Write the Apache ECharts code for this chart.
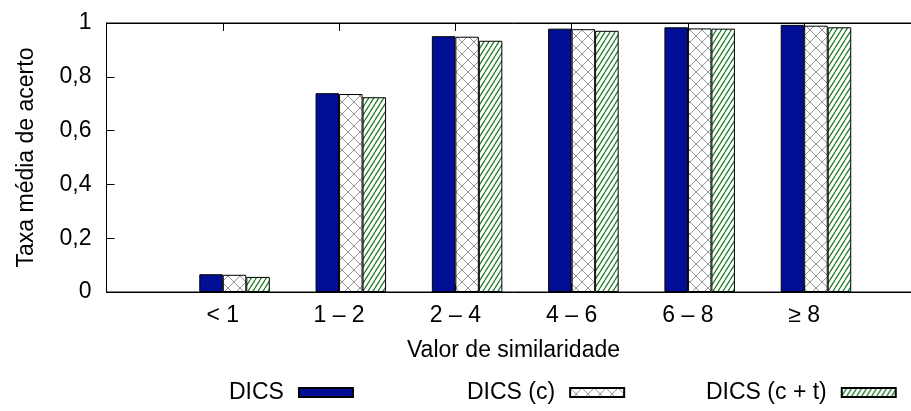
<!DOCTYPE html>
<html>
<head>
<meta charset="utf-8">
<script src="https://cdn.jsdelivr.net/npm/echarts@6/dist/echarts.min.js"></script>
<style>
  html, body { margin: 0; padding: 0; background: #fff; overflow: hidden; }
  /* the plot frame runs past the right edge of the 911px view */
  #chart { width: 930px; height: 411px; }
</style>
</head>
<body>
<div id="chart"></div>
<script>
// Similarity bins on the x axis
const categories = ['< 1', '1 – 2', '2 – 4', '4 – 6', '6 – 8', '≥ 8'];

// Mean hit rate per bin for each method
const dics   = [0.066, 0.739, 0.951, 0.979, 0.984, 0.993];
const dicsC  = [0.064, 0.736, 0.949, 0.977, 0.980, 0.990];
const dicsCT = [0.056, 0.724, 0.934, 0.971, 0.979, 0.984];

const seriesNames = ['DICS', 'DICS (c)', 'DICS (c + t)'];
const yTickLabels = ['0', '0,2', '0,4', '0,6', '0,8', '1'];

// The x range keeps one empty slot on each side of the bins
const axisCats = [''].concat(categories, ['']);
const pad = arr => ['-'].concat(arr, ['-']);

const FONT = '"Liberation Sans", Arial, sans-serif';
const FS = 23;

function tile(w, h, draw) {
  const c = document.createElement('canvas');
  c.width = w; c.height = h;
  const ctx = c.getContext('2d');
  ctx.fillStyle = '#ffffff';
  ctx.fillRect(0, 0, w, h);
  draw(ctx, w, h);
  return c;
}

// Gray cross-hatch
const crossTile = tile(12, 12, (ctx, w, h) => {
  ctx.strokeStyle = '#959595';
  ctx.lineWidth = 1;
  ctx.beginPath();
  ctx.moveTo(0, 0); ctx.lineTo(w, h);
  ctx.moveTo(w, 0); ctx.lineTo(0, h);
  ctx.stroke();
});

// Green diagonal hatch
const hatchTile = tile(5, 8, (ctx, w, h) => {
  ctx.strokeStyle = '#16791f';
  ctx.lineWidth = 1.2;
  ctx.beginPath();
  for (let k = -1; k <= 1; k++) {
    ctx.moveTo(k * w, h); ctx.lineTo(k * w + w, 0);
  }
  ctx.stroke();
});

const fills = [
  '#000f96',
  { image: crossTile, repeat: 'repeat' },
  { image: hatchTile, repeat: 'repeat' }
];
const values = [dics, dicsC, dicsCT];

const BAR_W = 23.5;

const barSeries = seriesNames.map((name, i) => ({
  name: name,
  type: 'bar',
  data: pad(values[i]),
  barWidth: BAR_W,
  barGap: '0%',
  itemStyle: { color: fills[i], borderColor: '#000', borderWidth: 1 },
  emphasis: { disabled: true },
  z: 3
}));

// Empty spacer slot so each cluster starts half a bar left of its tick
const spacer = {
  name: 'spacer',
  type: 'bar',
  data: pad(categories.map(() => '-')),
  barWidth: BAR_W,
  barGap: '0%',
  silent: true
};

const legendCommon = {
  orient: 'horizontal',
  align: 'right',
  icon: 'rect',
  itemWidth: 54,
  itemHeight: 9,
  padding: 0,
  top: 381,
  selectedMode: false,
  textStyle: { fontFamily: FONT, fontSize: FS, color: '#000', padding: [0, 10, 0, 0] }
};

const chart = echarts.init(document.getElementById('chart'), null, { renderer: 'canvas' });
chart.setOption({
  animation: false,
  backgroundColor: '#fff',
  textStyle: { fontFamily: FONT },
  grid: {
    left: 106.5, top: 23, height: 269, width: 814,
    show: true, borderColor: '#000', borderWidth: 1, backgroundColor: 'transparent',
    containLabel: false
  },
  legend: [
    Object.assign({}, legendCommon, { data: [seriesNames[0]], left: 229 }),
    Object.assign({}, legendCommon, { data: [seriesNames[1]], left: 467 }),
    Object.assign({}, legendCommon, { data: [seriesNames[2]], left: 706 })
  ],
  xAxis: [
    {
      type: 'category',
      data: axisCats,
      boundaryGap: false,
      position: 'bottom',
      axisLine: { lineStyle: { color: '#000', width: 1 } },
      axisTick: { inside: true, length: 8, lineStyle: { color: '#000' } },
      axisLabel: { color: '#000', fontSize: FS, fontFamily: FONT, margin: 12, interval: 0 },
      splitLine: { show: false },
      name: 'Valor de similaridade',
      nameLocation: 'middle',
      nameGap: 47,
      nameTextStyle: { color: '#000', fontSize: FS, fontFamily: FONT }
    },
    {
      type: 'category',
      data: axisCats,
      boundaryGap: false,
      position: 'top',
      axisLine: { lineStyle: { color: '#000', width: 1 } },
      axisTick: { inside: true, length: 8, lineStyle: { color: '#000' } },
      axisLabel: { show: false },
      splitLine: { show: false }
    }
  ],
  yAxis: {
    type: 'value',
    min: 0, max: 1, interval: 0.2,
    axisLine: { show: true, lineStyle: { color: '#000', width: 1 } },
    axisTick: { show: true, inside: true, length: 8, lineStyle: { color: '#000' } },
    axisLabel: {
      color: '#000', fontSize: FS, fontFamily: FONT, margin: 15,
      formatter: v => yTickLabels[Math.round(v / 0.2)]
    },
    splitLine: { show: false },
    name: 'Taxa média de acerto',
    nameLocation: 'middle',
    nameGap: 68,
    nameTextStyle: { color: '#000', fontSize: FS, fontFamily: FONT }
  },
  series: [spacer].concat(barSeries)
});
</script>
</body>
</html>
